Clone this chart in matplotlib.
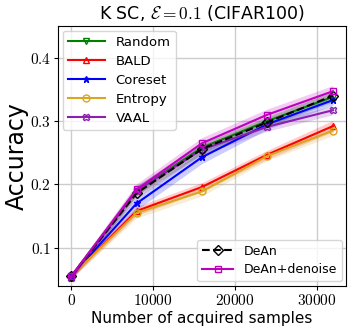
import matplotlib
matplotlib.use("Agg")
import matplotlib.pyplot as plt
import numpy as np

plt.rcParams['mathtext.fontset'] = 'cm'
plt.rcParams['font.family'] = 'DejaVu Sans'

x = [0, 8000, 16000, 24000, 32000]
random_m = [0.055, 0.190, 0.258, 0.300, 0.338]
random_s = [0.004, 0.008, 0.008, 0.008, 0.008]
bald_m = [0.055, 0.158, 0.196, 0.247, 0.292]
bald_s = [0.004, 0.007, 0.007, 0.007, 0.009]
coreset_m = [0.055, 0.170, 0.243, 0.295, 0.333]
coreset_s = [0.004, 0.010, 0.010, 0.008, 0.008]
entropy_m = [0.055, 0.155, 0.189, 0.245, 0.285]
entropy_s = [0.004, 0.008, 0.007, 0.007, 0.008]
vaal_m = [0.052, 0.190, 0.255, 0.291, 0.317]
vaal_s = [0.004, 0.008, 0.008, 0.007, 0.007]
dean_m = [0.055, 0.186, 0.256, 0.298, 0.340]
dean_s = [0.004, 0.008, 0.008, 0.008, 0.008]
deand_m = [0.055, 0.192, 0.265, 0.310, 0.347]
deand_s = [0.004, 0.009, 0.009, 0.009, 0.009]

xticks = [0, 10000, 20000, 30000]
yticks = [0.1, 0.2, 0.3, 0.4]

fig = plt.figure(figsize=(3.56, 3.32), dpi=100)
ax = fig.add_axes([0.163, 0.139, 0.809, 0.783])

series = [
    ("Random", random_m, random_s, "green", "v", "-"),
    ("BALD", bald_m, bald_s, "red", "^", "-"),
    ("Coreset", coreset_m, coreset_s, "blue", "*", "-"),
    ("Entropy", entropy_m, entropy_s, "goldenrod", "o", "-"),
    ("VAAL", vaal_m, vaal_s, "#8a1fb0", "X", "-"),
]
handles1 = []
for name, m, s, c, mk, ls in series:
    m = np.array(m); s = np.array(s)
    ax.fill_between(x, m - s, m + s, color=c, alpha=0.2, lw=0)
    h, = ax.plot(x, m, color=c, marker=mk, ls=ls, lw=1.5, ms=5,
                 mfc='none', mew=1.0, label=name)
    handles1.append(h)

m = np.array(dean_m); s = np.array(dean_s)
ax.fill_between(x, m - s, m + s, color='gray', alpha=0.25, lw=0)
h6, = ax.plot(x, m, color='black', marker='D', ls='--', lw=1.5, ms=5,
              mfc='none', mew=1.0, label='DeAn')
m = np.array(deand_m); s = np.array(deand_s)
ax.fill_between(x, m - s, m + s, color='m', alpha=0.2, lw=0)
h7, = ax.plot(x, m, color='m', marker='s', ls='-', lw=1.5, ms=5,
              mfc='none', mew=1.0, label='DeAn+denoise')

ax.set_xlim(-1600, 33600)
ax.set_ylim(0.04, 0.45)
ax.set_xticks(xticks)
ax.set_xticklabels([f"${t}$" for t in xticks], fontsize=11)
ax.set_yticks(yticks)
ax.set_yticklabels([f"${t}$" for t in yticks], fontsize=11)
ax.tick_params(length=3, pad=2)
ax.grid(True, color='#cccccc', lw=1.0)
ax.set_axisbelow(True)

ax.set_xlabel("Number of acquired samples", fontsize=11, labelpad=2)
ax.set_ylabel("Accuracy", fontsize=17, labelpad=1)
ax.set_title(r"K SC, $\mathcal{E}=0.1$ (CIFAR100)", fontsize=12.5, pad=5)

leg1 = ax.legend(handles=handles1, loc='upper left', fontsize=9.5,
                 handlelength=2.8, borderaxespad=0.35, labelspacing=0.45)
ax.add_artist(leg1)
ax.legend(handles=[h6, h7], loc='lower right', fontsize=9,
          handlelength=2.5, borderaxespad=0.35, labelspacing=0.45)

fig.savefig("out.png", dpi=100)
